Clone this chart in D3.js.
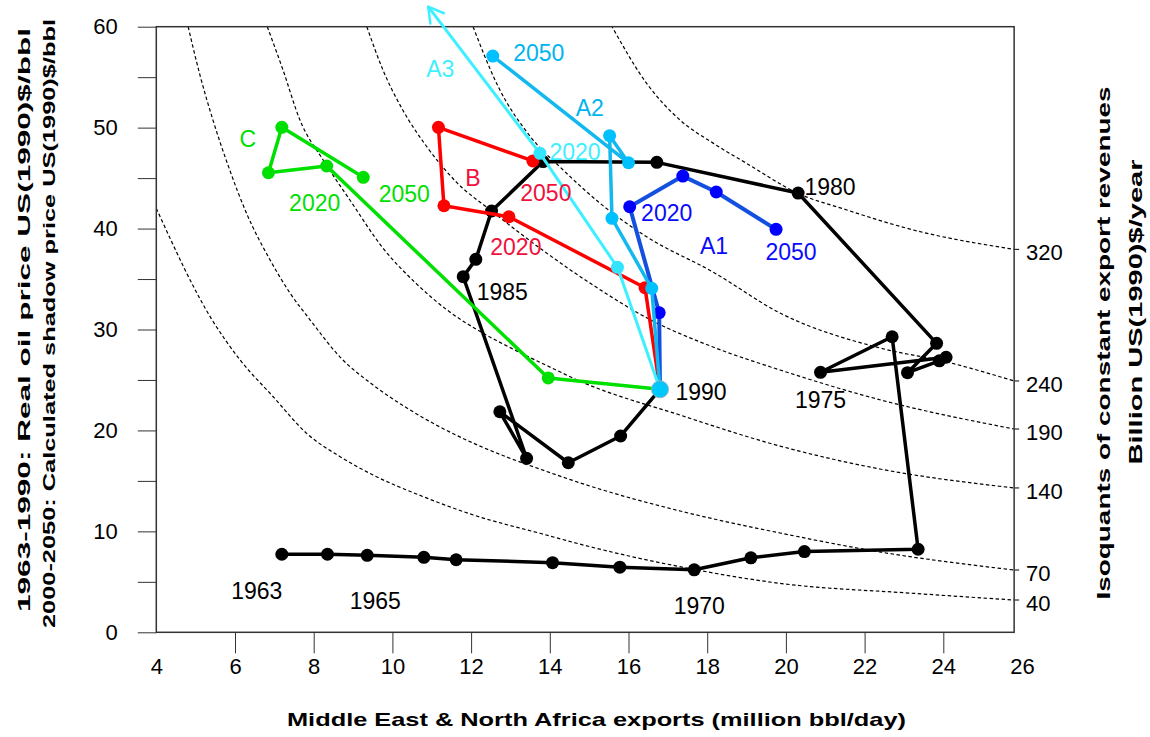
<!DOCTYPE html>
<html>
<head>
<meta charset="utf-8">
<script src="https://d3js.org/d3.v7.min.js"></script>
<style>
body { margin:0; background:#fff; }
text { font-family:"Liberation Sans", Arial, sans-serif; }
</style>
</head>
<body>
<div id="chart"></div>
<script>
// ---- axis ticks
var xTicks = [4,6,8,10,12,14,16,18,20,22,24,26];
var yTicks = [0,5,10,15,20,25,30,35,40,45,50,55,60];

// ---- history 1963-1990 (exports, real price)
var histYears = [1963,1964,1965,1966,1967,1968,1969,1970,1971,1972,1973,1974,1975,1976,
                 1977,1978,1979,1980,1981,1982,1983,1984,1985,1986,1987,1988,1989,1990];
var histX = [7.19,8.35,9.36,10.80,11.62,14.07,15.78,17.67,19.11,20.47,23.36,22.70,20.88,24.07,
             23.90,23.09,23.83,20.31,16.72,13.83,12.52,12.12,11.80,13.41,12.73,14.47,15.80,16.80];
var histY = [7.73,7.73,7.63,7.43,7.19,6.90,6.45,6.19,7.38,8.00,8.23,29.28,25.76,27.25,
             26.90,25.72,28.63,43.52,46.56,46.64,41.74,36.95,35.23,17.24,21.85,16.80,19.45,24.07];

// ---- scenarios 1990-2050
var scenYears = [1990,2000,2020,2030,2040,2050];
var cX  = [16.80,13.96,8.33,6.85,7.19,9.26];
var cY  = [24.07,25.20,46.20,45.53,50.03,45.08];
var bX  = [16.80,16.42,12.96,11.31,11.17,13.57];
var bY  = [24.07,34.14,41.17,42.26,50.03,46.70];
var a1X = [16.80,16.78,16.03,17.38,18.23,19.75];
var a1Y = [24.07,31.66,42.16,45.20,43.62,39.92];
var a2X = [16.80,16.59,15.58,15.52,16.00,12.55];
var a2Y = [24.07,34.08,41.01,49.20,46.52,57.09];
var a3X = [16.80,15.72,13.75];
var a3Y = [24.07,36.16,47.45];
var a3ArrowX = 10.91, a3ArrowY = 61.98;

// ---- isoquants of constant export revenues (billion US(1990)$/year)
var isoValues = [40,70,140,190,240,320];
var iso40X  = [4.0,5.42,6.13,6.97,7.82,8.67,9.51,10.79,12.06,13.75,15.02,17.31,19.85,23.24,25.8];
var iso40Y  = [42.0,30.94,26.98,23.34,19.71,17.4,15.58,13.43,11.62,9.81,8.48,6.5,4.85,3.86,3.2];
var iso70X  = [4.81,5.11,5.44,5.82,6.31,6.89,7.40,7.91,8.67,9.51,10.37,11.21,12.05,12.91,13.75,15.02,17.31,19.85,22.39,25.8];
var iso70Y  = [60.0,55.2,50.75,46.3,41.36,36.9,33.6,30.94,27.27,24.5,22.22,20.34,18.75,17.36,16.17,14.49,12.02,9.84,7.96,6.17];
var iso140X = [6.82,7.22,7.65,8.24,8.92,9.76,10.62,11.46,12.30,13.11,13.95,14.76,17.31,19.85,22.39,25.8];
var iso140Y = [60.0,55.71,50.75,46.79,42.83,38.07,34.5,31.73,29.65,27.97,26.38,24.89,21.52,18.45,16.18,14.3];
var iso190X = [9.35,9.76,10.27,10.88,11.64,12.52,15.02,16.57,18.15,19.85,22.32,25.8];
var iso190Y = [60.0,55.71,51.7,48.08,44.55,41.74,34.6,30.94,28.26,25.99,23.11,20.14];
var iso240X = [12.05,12.69,13.51,14.34,15.28,16.46,18.15,19.85,22.39,24.09,25.8];
var iso240Y = [60.0,54.05,49.1,45.8,42.5,39.19,35.69,31.63,28.17,26.78,24.9];
var iso320X = [15.56,16.46,17.31,18.16,19.0,20.31,21.55,23.24,25.8];
var iso320Y = [60.16,54.39,50.75,48.44,46.46,43.49,41.84,39.86,37.94];

var W = 1150, H = 737;
var svg = d3.select("#chart").append("svg")
    .attr("width", W).attr("height", H)
    .style("background", "#fff");

var x = d3.scaleLinear().domain([4, 26]).range([156.3, 1022]);
var y = d3.scaleLinear().domain([0, 60]).range([632.3, 26.7]);
var xRight = x(25.8);

svg.append("clipPath").attr("id", "plotclip")
  .append("rect")
    .attr("x", x(4)).attr("y", y(60))
    .attr("width", xRight - x(4)).attr("height", y(0) - y(60));

// isoquant curves
var isoSets = [
  {v: isoValues[0], xs: iso40X,  ys: iso40Y},
  {v: isoValues[1], xs: iso70X,  ys: iso70Y},
  {v: isoValues[2], xs: iso140X, ys: iso140Y},
  {v: isoValues[3], xs: iso190X, ys: iso190Y},
  {v: isoValues[4], xs: iso240X, ys: iso240Y},
  {v: isoValues[5], xs: iso320X, ys: iso320Y}
];
var isoLine = d3.line()
    .x(function(d){ return x(d[0]); })
    .y(function(d){ return y(d[1]); })
    .curve(d3.curveMonotoneX);

var isoG = svg.append("g").attr("clip-path", "url(#plotclip)");
isoSets.forEach(function(s){
  isoG.append("path")
    .attr("d", isoLine(d3.zip(s.xs, s.ys)))
    .attr("fill", "none")
    .attr("stroke", "#000")
    .attr("stroke-width", 1.2)
    .attr("stroke-dasharray", "3.5,2.5");
  var ly = y(s.ys[s.ys.length - 1]);
  svg.append("line")
    .attr("x1", xRight).attr("x2", xRight + 5)
    .attr("y1", ly).attr("y2", ly)
    .attr("stroke", "#000").attr("stroke-width", 1);
  svg.append("text")
    .attr("x", 1026).attr("y", ly + 3)
    .attr("dy", "0.35em")
    .style("font-size", "22px")
    .text(s.v);
});

// frame
svg.append("rect")
  .attr("x", x(4)).attr("y", y(60))
  .attr("width", xRight - x(4)).attr("height", y(0) - y(60))
  .attr("fill", "none").attr("stroke", "#333").attr("stroke-width", 1.5);

// y axis
var yAxis = svg.append("g")
  .attr("transform", "translate(" + x(4) + ",0)")
  .call(d3.axisLeft(y).tickValues(yTicks).tickSize(18.5).tickPadding(20)
        .tickFormat(function(d){ return d % 10 === 0 ? d : ""; }));
yAxis.select(".domain").remove();
yAxis.selectAll("line").attr("stroke", "#333");
yAxis.selectAll("text").style("font-size", "22px").attr("fill", "#000")
  .style("font-family", "'Liberation Sans', Arial, sans-serif");

// x axis
var xAxis = svg.append("g")
  .attr("transform", "translate(0," + y(0) + ")")
  .call(d3.axisBottom(x).tickValues(xTicks).tickSize(21).tickPadding(5.5));
xAxis.select(".domain").remove();
xAxis.selectAll(".tick line").attr("stroke", "#333")
  .filter(function(d){ return d === 4 || d === 26; }).remove();
xAxis.selectAll("text").style("font-size", "22px").attr("fill", "#000")
  .style("font-family", "'Liberation Sans', Arial, sans-serif");

// paths
var pathLine = d3.line()
    .x(function(d){ return x(d[0]); })
    .y(function(d){ return y(d[1]); });

function drawTrack(xs, ys, lineColor, dotColor, lw, r) {
  var pts = d3.zip(xs, ys);
  var g = svg.append("g");
  g.append("path")
    .attr("d", pathLine(pts))
    .attr("fill", "none")
    .attr("stroke", lineColor)
    .attr("stroke-width", lw)
    .attr("stroke-linejoin", "round");
  g.selectAll("circle").data(pts).enter().append("circle")
    .attr("cx", function(d){ return x(d[0]); })
    .attr("cy", function(d){ return y(d[1]); })
    .attr("r", r)
    .attr("fill", dotColor);
  return g;
}

drawTrack(histX, histY, "#000", "#000", 3.5, 6.5);
drawTrack(cX, cY, "#00e000", "#00e000", 3.5, 6.5);
drawTrack(bX, bY, "#ff0000", "#ff0000", 3.5, 6.5);
drawTrack(a1X, a1Y, "#1450e0", "#0000ff", 4, 6.5);
drawTrack(a2X, a2Y, "#12b8ee", "#00c0ff", 3.5, 6.5);

// A3 with arrow
var a3g = drawTrack(a3X, a3Y, "#3cf0ff", "#33e4ff", 3, 6.5);
var last = a3X.length - 1;
var px0 = x(a3X[last]), py0 = y(a3Y[last]);
var tx = x(a3ArrowX), ty = y(a3ArrowY);
a3g.insert("line", "circle")
  .attr("x1", px0).attr("y1", py0).attr("x2", tx).attr("y2", ty)
  .attr("stroke", "#3cf0ff").attr("stroke-width", 3);
var ang = Math.atan2(py0 - ty, px0 - tx), hl = 17;
[Math.PI / 6, -Math.PI / 6].forEach(function(da){
  a3g.append("line")
    .attr("x1", tx).attr("y1", ty)
    .attr("x2", tx + hl * Math.cos(ang + da))
    .attr("y2", ty + hl * Math.sin(ang + da))
    .attr("stroke", "#3cf0ff").attr("stroke-width", 2.5)
    .attr("stroke-linecap", "round");
});

// 1990 marker
svg.append("circle")
  .attr("cx", x(histX[histX.length - 1])).attr("cy", y(histY[histY.length - 1]))
  .attr("r", 8.5).attr("fill", "#00c8ff")
  .attr("stroke", "#8fb4c0").attr("stroke-width", 1);

// annotations (anchored to data points, offsets in px)
function hp(yr){ var i = histYears.indexOf(yr); return [x(histX[i]), y(histY[i])]; }
function sp(xs, ys, i){ return [x(xs[i]), y(ys[i])]; }
var notes = [
  {t:"1963", at:hp(1963), dx:-25, dy:36, c:"#000"},
  {t:"1965", at:hp(1965), dx:8,   dy:45, c:"#000"},
  {t:"1970", at:hp(1970), dx:5,   dy:36, c:"#000"},
  {t:"1975", at:hp(1975), dx:0,   dy:27, c:"#000"},
  {t:"1980", at:hp(1980), dx:32,  dy:-6, c:"#000"},
  {t:"1985", at:hp(1985), dx:39,  dy:15, c:"#000"},
  {t:"1990", at:hp(1990), dx:41,  dy:2,  c:"#000"},
  {t:"C",    at:sp(cX,cY,4),   dx:-34, dy:11, c:"#00e000"},
  {t:"2020", at:sp(cX,cY,2),   dx:-12, dy:37, c:"#00e000"},
  {t:"2050", at:sp(cX,cY,5),   dx:41,  dy:16, c:"#00e000"},
  {t:"B",    at:sp(bX,bY,3),   dx:29,  dy:-28, c:"#f0103c"},
  {t:"2050", at:sp(bX,bY,5),   dx:13,  dy:32, c:"#f0103c"},
  {t:"2020", at:sp(bX,bY,2),   dx:7,   dy:30, c:"#f0103c"},
  {t:"2020", at:sp(a1X,a1Y,2), dx:37,  dy:6,  c:"#0a0aff"},
  {t:"A1",   at:sp(a1X,a1Y,5), dx:-62, dy:16, c:"#0a0aff"},
  {t:"2050", at:sp(a1X,a1Y,5), dx:15,  dy:22, c:"#0a0aff"},
  {t:"2050", at:sp(a2X,a2Y,5), dx:46,  dy:-3, c:"#00b4f0"},
  {t:"A2",   at:sp(a2X,a2Y,5), dx:97,  dy:52, c:"#00b4f0"},
  {t:"A3",   at:[tx, ty],      dx:12,  dy:62, c:"#3ef0ff"},
  {t:"2020", at:sp(a3X,a3Y,2), dx:35,  dy:-2, c:"#3ef0ff"}
];
svg.append("g").selectAll("text").data(notes).enter().append("text")
  .attr("x", function(d){ return d.at[0] + d.dx; })
  .attr("y", function(d){ return d.at[1] + d.dy; })
  .attr("dy", "0.36em")
  .attr("text-anchor", "middle")
  .attr("fill", function(d){ return d.c; })
  .style("font-size", "23px")
  .text(function(d){ return d.t; });

// axis titles
function title(txt, cx, cy, rot, fs, len) {
  svg.append("text")
    .attr("transform", "translate(" + cx + "," + cy + ") rotate(" + rot + ")")
    .attr("text-anchor", "middle")
    .attr("textLength", len)
    .attr("lengthAdjust", "spacingAndGlyphs")
    .style("font-size", fs + "px")
    .style("font-weight", "bold")
    .text(txt);
}
title("Middle East  & North Africa exports (million bbl/day)", 596.5, 726, 0, 18.5, 619);
title("1963-1990: Real oil price US(1990)$/bbl", 30, 320, -90, 17, 584);
title("2000-2050: Calculated shadow price US(1990)$/bbl", 55, 323.5, -90, 17, 609);
title("Isoquants of constant export revenues", 1110, 343, -90, 19, 513);
title("Billion US(1990)$/year", 1142, 312, -90, 19, 305);
</script>
</body>
</html>
